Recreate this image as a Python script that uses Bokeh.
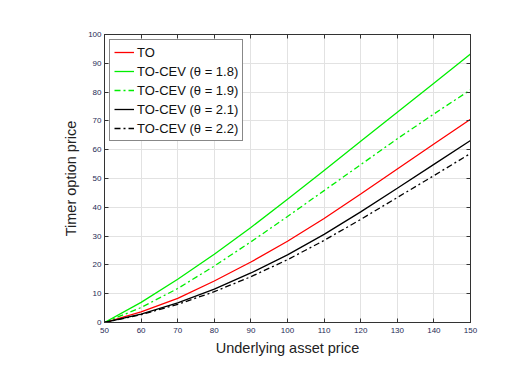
from bokeh.plotting import figure
from bokeh.models import LinearAxis, Range1d, Legend, LegendItem, FixedTicker
from bokeh.embed import file_html
from bokeh.resources import INLINE

# Data
asset_price = [50, 60, 70, 80, 90, 100, 110, 120, 130, 140, 150]
to_price = [0, 3.7, 8.4, 14.4, 21.0, 28.2, 36.1, 44.6, 53.3, 62.0, 70.6]
cev_18 = [0, 7.0, 15.0, 23.7, 33.0, 42.8, 52.8, 62.9, 73.0, 83.1, 93.2]
cev_19 = [0, 5.2, 11.8, 19.6, 28.0, 36.8, 45.8, 54.8, 63.8, 72.4, 80.8]
cev_21 = [0, 2.9, 6.8, 11.6, 17.2, 23.5, 30.6, 38.4, 46.6, 54.9, 63.2]
cev_22 = [0, 2.7, 6.3, 10.7, 15.9, 21.8, 28.5, 35.8, 43.4, 51.0, 58.7]

x_ticks = [50, 60, 70, 80, 90, 100, 110, 120, 130, 140, 150]
y_ticks = [0, 10, 20, 30, 40, 50, 60, 70, 80, 90, 100]

labels = ["TO", "TO-CEV (θ = 1.8)", "TO-CEV (θ = 1.9)",
          "TO-CEV (θ = 2.1)", "TO-CEV (θ = 2.2)"]

FONT = "Liberation Sans"
TICK_COLOR = "#1e2a55"

p = figure(width=505, height=360, x_range=Range1d(50, 150), y_range=Range1d(0, 100),
           output_backend="svg", toolbar_location=None,
           min_border_left=104, min_border_right=35, min_border_top=34, min_border_bottom=38,
           background_fill_color="white", border_fill_color="white")
p.outline_line_color = "#333333"
p.outline_line_width = 1

p.xaxis.ticker = FixedTicker(ticks=x_ticks)
p.yaxis.ticker = FixedTicker(ticks=y_ticks)

p.xgrid.ticker = FixedTicker(ticks=x_ticks)
p.ygrid.ticker = FixedTicker(ticks=y_ticks)
p.grid.grid_line_color = "#e2e2e2"
p.grid.grid_line_width = 1

for ax in [p.xaxis[0], p.yaxis[0]]:
    ax.major_tick_in = 4
    ax.major_tick_out = 0
    ax.minor_tick_line_color = None
    ax.axis_line_color = "#333333"
    ax.major_tick_line_color = "#333333"
    ax.major_label_text_font = FONT
    ax.major_label_text_font_size = "8px"
    ax.major_label_text_color = TICK_COLOR
    ax.axis_label_text_font = FONT
    ax.axis_label_text_font_style = "normal"
    ax.axis_label_text_font_size = "14.5px"
    ax.axis_label_text_color = "#222222"

p.xaxis.axis_label = "Underlying asset price"
p.yaxis.axis_label = "Timer option price"
p.xaxis.major_label_standoff = 5
p.yaxis.major_label_standoff = 3
p.xaxis.axis_label_standoff = 4
p.yaxis.axis_label_standoff = 6

top_ax = LinearAxis(ticker=FixedTicker(ticks=x_ticks), major_label_text_font_size="0px",
                    major_tick_in=4, major_tick_out=0, minor_tick_line_color=None,
                    axis_line_color="#333333", major_tick_line_color="#333333")
right_ax = LinearAxis(ticker=FixedTicker(ticks=y_ticks), major_label_text_font_size="0px",
                      major_tick_in=4, major_tick_out=0, minor_tick_line_color=None,
                      axis_line_color="#333333", major_tick_line_color="#333333")
top_ax.major_label_overrides = {t: "" for t in x_ticks}
right_ax.major_label_overrides = {t: "" for t in y_ticks}
p.add_layout(top_ax, "above")
p.add_layout(right_ax, "right")

r1 = p.line(asset_price, to_price, line_color="#ff0000", line_width=1.3)
r2 = p.line(asset_price, cev_18, line_color="#00ee00", line_width=1.3)
r3 = p.line(asset_price, cev_19, line_color="#00ee00", line_width=1.3, line_dash="6 3 2 3")
r4 = p.line(asset_price, cev_21, line_color="#000000", line_width=1.3)
r5 = p.line(asset_price, cev_22, line_color="#000000", line_width=1.3, line_dash="6 3 2 3")

legend = Legend(items=[LegendItem(label=l, renderers=[r]) for l, r in
                       zip(labels, [r1, r2, r3, r4, r5])],
                location="top_left")
legend.label_text_font = FONT
legend.label_text_font_size = "13px"
legend.label_text_color = "#111111"
legend.glyph_width = 20
legend.glyph_height = 16
legend.label_standoff = 3
legend.label_height = 16
legend.spacing = 3
legend.padding = 4
legend.margin = 5
legend.border_line_color = "#111111"
legend.border_line_width = 1
legend.background_fill_alpha = 1
p.add_layout(legend, "center")

open("out.html", "w").write(file_html(p, INLINE))
